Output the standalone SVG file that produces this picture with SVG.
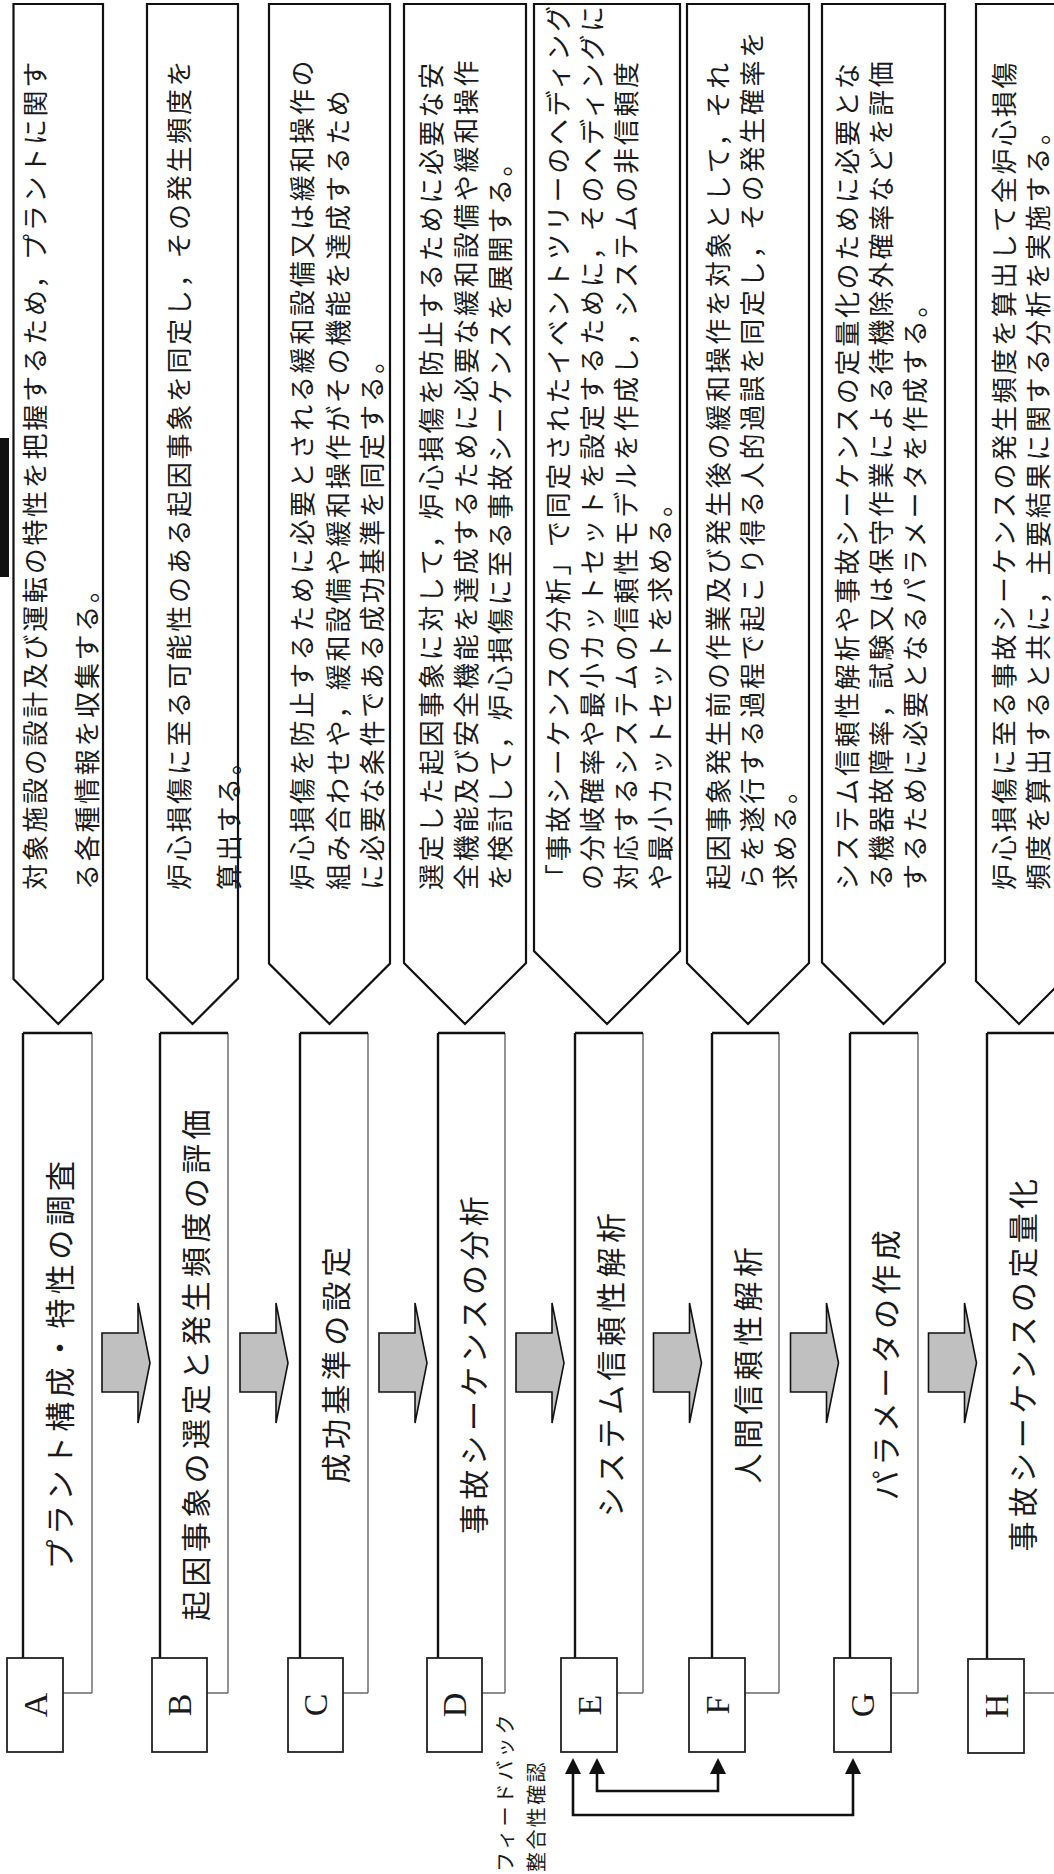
<svg xmlns="http://www.w3.org/2000/svg" width="1054" height="1874" viewBox="0 0 1054 1874">
<defs>
<style>
.desc{fill:#fff;stroke:#111;stroke-width:2.2;stroke-linejoin:miter}
.dtxt{font-family:"Noto Sans CJK JP","Noto Sans CJK SC",sans-serif;font-size:26px;letter-spacing:2.7px;fill:#1a1a1a;dominant-baseline:central}
.title{font-family:"Noto Sans CJK JP","Noto Sans CJK SC",sans-serif;font-size:30px;letter-spacing:4.4px;fill:#1a1a1a;dominant-baseline:central;text-anchor:middle}
.main{fill:#fff;stroke:none}
.thick{stroke:#111;stroke-width:2.4}
.thin{stroke:#666;stroke-width:1.4}
.letter{fill:#fff;stroke:#222;stroke-width:1.8}
.ltxt{font-family:"Liberation Serif",serif;font-size:34px;fill:#1a1a1a;text-anchor:middle;dominant-baseline:central}
.blk{fill:#c0c0c0;stroke:#111;stroke-width:1.6;stroke-linejoin:miter}
.fb{fill:none;stroke:#111;stroke-width:2.6}
.fbtxt{font-family:"Noto Sans CJK JP","Noto Sans CJK SC",sans-serif;font-size:20px;fill:#1a1a1a;dominant-baseline:central}
</style>
<marker id="ah" viewBox="0 0 10 10" refX="0" refY="5" markerUnits="userSpaceOnUse" markerWidth="16" markerHeight="16" orient="auto-start-reverse">
<path d="M0,0 L10,5 L0,10 Z" fill="#111"/>
</marker>
</defs>
<rect x="0" y="0" width="1054" height="1874" fill="#fff"/>
<g transform="translate(0,1874) rotate(-90)">

<!-- scan mark -->
<rect x="1297" y="0" width="139" height="9" fill="#111"/>

<!-- description pentagons -->
<g id="desc-A">
<polygon class="desc" points="1870,13.5 1870,103 895,103 850,58.25 895,13.5"/>
<text class="dtxt" x="984" y="33">対象施設の設計及び運転の特性を把握するため，プラントに関す</text>
<text class="dtxt" x="984" y="85">る各種情報を収集する。</text>
</g>
<g id="desc-B">
<polygon class="desc" points="1870,147 1870,238 895.5,238 850,192.5 895.5,147"/>
<text class="dtxt" x="984" y="177">炉心損傷に至る可能性のある起因事象を同定し，その発生頻度を</text>
<text class="dtxt" x="984" y="227">算出する。</text>
</g>
<g id="desc-C">
<polygon class="desc" points="1870,269 1870,390 910.5,390 850,329.5 910.5,269"/>
<text class="dtxt" x="984" y="300">炉心損傷を防止するために必要とされる緩和設備又は緩和操作の</text>
<text class="dtxt" x="984" y="336">組み合わせや，緩和設備や緩和操作がその機能を達成するため</text>
<text class="dtxt" x="984" y="370">に必要な条件である成功基準を同定する。</text>
</g>
<g id="desc-D">
<polygon class="desc" points="1870,404 1870,526 911,526 850,465 911,404"/>
<text class="dtxt" x="984" y="429">選定した起因事象に対して，炉心損傷を防止するために必要な安</text>
<text class="dtxt" x="984" y="464">全機能及び安全機能を達成するために必要な緩和設備や緩和操作</text>
<text class="dtxt" x="984" y="498.5">を検討して，炉心損傷に至る事故シーケンスを展開する。</text>
</g>
<g id="desc-E">
<polygon class="desc" points="1870,534 1870,680 923,680 850,607 923,534"/>
<text class="dtxt" x="984" y="556">「事故シーケンスの分析」で同定されたイベントツリーのヘディング</text>
<text class="dtxt" x="984" y="590">の分岐確率や最小カットセットを設定するために，そのヘディングに</text>
<text class="dtxt" x="984" y="624">対応するシステムの信頼性モデルを作成し，システムの非信頼度</text>
<text class="dtxt" x="984" y="658">や最小カットセットを求める。</text>
</g>
<g id="desc-F">
<polygon class="desc" points="1870,687 1870,809 911,809 850,748 911,687"/>
<text class="dtxt" x="984" y="716">起因事象発生前の作業及び発生後の緩和操作を対象として，それ</text>
<text class="dtxt" x="984" y="750">らを遂行する過程で起こり得る人的過誤を同定し，その発生確率を</text>
<text class="dtxt" x="984" y="783">求める。</text>
</g>
<g id="desc-G">
<polygon class="desc" points="1870,822 1870,945 911.5,945 850,883.5 911.5,822"/>
<text class="dtxt" x="984" y="845">システム信頼性解析や事故シーケンスの定量化のために必要とな</text>
<text class="dtxt" x="984" y="879">る機器故障率，試験又は保守作業による待機除外確率などを評価</text>
<text class="dtxt" x="984" y="913">するために必要となるパラメータを作成する。</text>
</g>
<g id="desc-H">
<polygon class="desc" points="1870,976 1870,1062 893,1062 850,1019 893,976"/>
<text class="dtxt" x="984" y="1002">炉心損傷に至る事故シーケンスの発生頻度を算出して全炉心損傷</text>
<text class="dtxt" x="984" y="1036">頻度を算出すると共に，主要結果に関する分析を実施する。</text>
</g>

<!-- step boxes -->
<g id="step-A">
<rect class="main" x="181" y="23" width="660" height="69"/>
<line class="thin" x1="181" y1="92" x2="841" y2="92"/><line class="thin" x1="181" y1="23" x2="181" y2="92"/>
<line class="thick" x1="181" y1="23" x2="841" y2="23"/><line class="thick" x1="841" y1="23" x2="841" y2="92"/>
<text class="title" x="511" y="57.5">プラント構成・特性の調査</text>
<rect class="letter" x="122" y="7" width="94" height="56"/>
<text class="ltxt" x="169" y="35">A</text>
</g>
<g id="step-B">
<rect class="main" x="181" y="160" width="660" height="68"/>
<line class="thin" x1="181" y1="228" x2="841" y2="228"/><line class="thin" x1="181" y1="160" x2="181" y2="228"/>
<line class="thick" x1="181" y1="160" x2="841" y2="160"/><line class="thick" x1="841" y1="160" x2="841" y2="228"/>
<text class="title" x="511" y="194">起因事象の選定と発生頻度の評価</text>
<rect class="letter" x="122" y="152" width="94" height="55"/>
<text class="ltxt" x="169" y="179.5">B</text>
</g>
<g id="step-C">
<rect class="main" x="181" y="300" width="660" height="68"/>
<line class="thin" x1="181" y1="368" x2="841" y2="368"/><line class="thin" x1="181" y1="300" x2="181" y2="368"/>
<line class="thick" x1="181" y1="300" x2="841" y2="300"/><line class="thick" x1="841" y1="300" x2="841" y2="368"/>
<text class="title" x="511" y="334">成功基準の設定</text>
<rect class="letter" x="122" y="288" width="94" height="55"/>
<text class="ltxt" x="169" y="315.5">C</text>
</g>
<g id="step-D">
<rect class="main" x="181" y="438" width="660" height="67"/>
<line class="thin" x1="181" y1="505" x2="841" y2="505"/><line class="thin" x1="181" y1="438" x2="181" y2="505"/>
<line class="thick" x1="181" y1="438" x2="841" y2="438"/><line class="thick" x1="841" y1="438" x2="841" y2="505"/>
<text class="title" x="511" y="471.5">事故シーケンスの分析</text>
<rect class="letter" x="122" y="427" width="94" height="55"/>
<text class="ltxt" x="169" y="454.5">D</text>
</g>
<g id="step-E">
<rect class="main" x="181" y="575" width="660" height="68"/>
<line class="thin" x1="181" y1="643" x2="841" y2="643"/><line class="thin" x1="181" y1="575" x2="181" y2="643"/>
<line class="thick" x1="181" y1="575" x2="841" y2="575"/><line class="thick" x1="841" y1="575" x2="841" y2="643"/>
<text class="title" x="511" y="609">システム信頼性解析</text>
<rect class="letter" x="122" y="561" width="94" height="56"/>
<text class="ltxt" x="169" y="589">E</text>
</g>
<g id="step-F">
<rect class="main" x="181" y="712" width="660" height="67"/>
<line class="thin" x1="181" y1="779" x2="841" y2="779"/><line class="thin" x1="181" y1="712" x2="181" y2="779"/>
<line class="thick" x1="181" y1="712" x2="841" y2="712"/><line class="thick" x1="841" y1="712" x2="841" y2="779"/>
<text class="title" x="511" y="745.5">人間信頼性解析</text>
<rect class="letter" x="122" y="689" width="94" height="56"/>
<text class="ltxt" x="169" y="717">F</text>
</g>
<g id="step-G">
<rect class="main" x="181" y="850" width="660" height="68"/>
<line class="thin" x1="181" y1="918" x2="841" y2="918"/><line class="thin" x1="181" y1="850" x2="181" y2="918"/>
<line class="thick" x1="181" y1="850" x2="841" y2="850"/><line class="thick" x1="841" y1="850" x2="841" y2="918"/>
<text class="title" x="511" y="884">パラメータの作成</text>
<rect class="letter" x="122" y="834" width="94" height="57"/>
<text class="ltxt" x="169" y="862.5">G</text>
</g>
<g id="step-H">
<rect class="main" x="181" y="987" width="660" height="68"/>
<line class="thin" x1="181" y1="1055" x2="841" y2="1055"/><line class="thin" x1="181" y1="987" x2="181" y2="1055"/>
<line class="thick" x1="181" y1="987" x2="841" y2="987"/><line class="thick" x1="841" y1="987" x2="841" y2="1055"/>
<text class="title" x="511" y="1021">事故シーケンスの定量化</text>
<rect class="letter" x="121" y="968" width="94" height="56"/>
<text class="ltxt" x="168" y="996">H</text>
</g>

<!-- connectors -->
<g id="connectors">
<polygon class="blk" points="482,102 541,102 541,138 571,138 511,150 451,138 482,138"/>
<polygon class="blk" points="482,240 541,240 541,276 571,276 511,288 451,276 482,276"/>
<polygon class="blk" points="482,379 541,379 541,415 571,415 511,427 451,415 482,415"/>
<polygon class="blk" points="482,516 541,516 541,552 571,552 511,564 451,552 482,552"/>
<polygon class="blk" points="482,653.5 541,653.5 541,689.5 571,689.5 511,701.5 451,689.5 482,689.5"/>
<polygon class="blk" points="482,790.5 541,790.5 541,826.5 571,826.5 511,838.5 451,826.5 482,826.5"/>
<polygon class="blk" points="482,928.5 541,928.5 541,964.5 571,964.5 511,976.5 451,964.5 482,964.5"/>
<path class="fb" d="M100,573 L59,573 L59,853 L100,853" marker-start="url(#ah)" marker-end="url(#ah)"/>
<path class="fb" d="M100,597 L83,597 L83,718 L100,718" marker-start="url(#ah)" marker-end="url(#ah)"/>
</g>

<g id="feedback-label">
<text class="fbtxt" x="2" y="504" letter-spacing="3">フィードバック</text>
<text class="fbtxt" x="2" y="535" letter-spacing="2.4">整合性確認</text>
</g>
</g>
</svg>
